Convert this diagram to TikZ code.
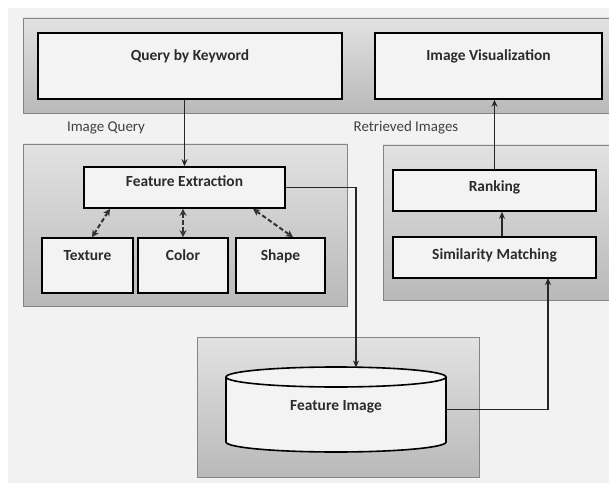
\documentclass[tikz,border=0pt]{standalone}
\usepackage{fontspec}
\setmainfont{Carlito}
\usetikzlibrary{arrows.meta}
\definecolor{bgc}{HTML}{F2F2F2}
\definecolor{boxfill}{HTML}{F3F3F3}
\definecolor{txt}{HTML}{2B2B2B}
\definecolor{pline}{HTML}{858585}
\definecolor{ptop}{HTML}{E2E2E2}
\definecolor{pbot}{HTML}{B9B9B9}
\newcommand{\bt}[2]{\raisebox{#1bp}[0pt][0pt]{#2}}
\begin{document}
\begin{tikzpicture}[x=1bp,y=-1bp,
  box/.style={draw=black, line width=1.6bp, fill=boxfill, inner sep=0pt, text=txt,
    font=\bfseries\fontsize{15.5}{17}\selectfont},
  panel/.style={draw=pline, line width=0.9bp, top color=ptop, bottom color=pbot},
  conn/.style={line width=1.1bp, draw=black!85, -{Stealth[length=7bp,width=6bp]}},
  dconn/.style={line width=2bp, draw=black!80, dash pattern=on 4.5bp off 2.5bp,
    {Stealth[length=7bp,width=7bp]}-{Stealth[length=7bp,width=7bp]}},
  lbl/.style={inner sep=0pt, text=txt!90, font=\fontsize{15}{17}\selectfont}]
\useasboundingbox (0,0) rectangle (609,483);
\fill[white] (0,0) rectangle (609,483);
\fill[bgc] (8,8) rectangle (609,483);
% panels
\draw[panel] (23,18) rectangle (615,113);
\draw[panel] (23,144) rectangle (347,306);
\draw[panel] (383,145) rectangle (615,300);
\draw[panel] (197,337) rectangle (479,477);
% top boxes
\node[box, minimum width=304bp, minimum height=66bp] (q) at (190,66) {\bt{5}{Query by Keyword}};
\node[box, minimum width=227bp, minimum height=66bp] (viz) at (488.5,66) {\bt{5}{Image Visualization}};
% labels
\node[lbl] (lq) at (106,128) {Image Query};
\node[lbl] (lr) at (406,128) {Retrieved Images};
% left group
\node[box, minimum width=201bp, minimum height=41bp] (fe) at (184.5,187.5) {\bt{0.5}{Feature Extraction}};
\node[box, minimum width=91bp, minimum height=55bp] (tx) at (87.5,265.5) {\bt{5.5}{Texture}};
\node[box, minimum width=90bp, minimum height=55bp] (col) at (183,265.5) {\bt{5.5}{Color}};
\node[box, minimum width=89bp, minimum height=55bp] (sh) at (280.5,265.5) {\bt{5.5}{Shape}};
% right group
\node[box, minimum width=203bp, minimum height=41bp] (rk) at (494.5,190.5) {\bt{-1.5}{Ranking}};
\node[box, minimum width=203bp, minimum height=41bp] (sm) at (494.5,257.5) {\bt{-1.5}{Similarity Matching}};
% cylinder
\filldraw[fill=boxfill, draw=black, line width=1.6bp]
  (226,377) -- (226,442) arc[start angle=180, end angle=0, x radius=110, y radius=10]
  -- (446,377) arc[start angle=0, end angle=-180, x radius=110, y radius=10] -- cycle;
\draw[black, line width=1.6bp] (226,377) arc[start angle=180, end angle=0, x radius=110, y radius=10];
\node[inner sep=0pt, minimum width=220bp, minimum height=85bp, text=txt,
  font=\bfseries\fontsize{15.5}{17}\selectfont] (cyl) at (336,409.5) {\bt{-0.5}{Feature Image}};
\coordinate (cin) at (356,367.5);
\coordinate (smin) at (548,278);
% connectors
\draw[conn] (q.south -| fe.north) -- (fe.north);
\draw[conn] (fe.east) -| (cin);
\draw[conn] (cyl.east) -| (smin);
\draw[conn] ([xshift=7.5bp]sm.north) -- ([xshift=7.5bp]rk.south);
\draw[conn] (rk.north) -- (rk.north |- viz.south);
\draw[dconn] ([xshift=-74.5bp]fe.south) -- ([xshift=4.5bp]tx.north);
\draw[dconn] (col.north |- fe.south) -- (col.north);
\draw[dconn] ([xshift=68.5bp]fe.south) -- ([xshift=12.5bp]sh.north);
\end{tikzpicture}
\end{document}
